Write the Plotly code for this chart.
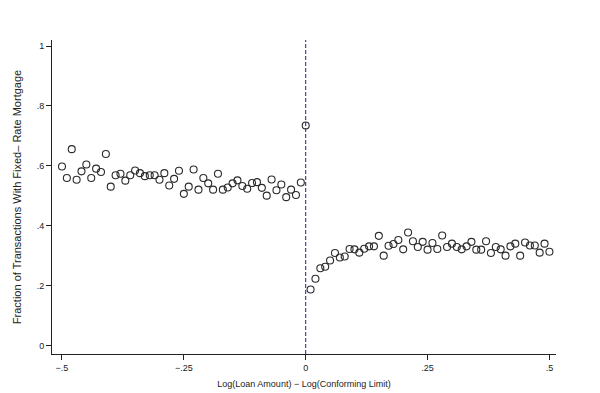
import plotly.graph_objects as go

left_x = [-0.50, -0.49, -0.48, -0.47, -0.46, -0.45, -0.44, -0.43, -0.42, -0.41,
          -0.40, -0.39, -0.38, -0.37, -0.36, -0.35, -0.34, -0.33, -0.32, -0.31,
          -0.30, -0.29, -0.28, -0.27, -0.26, -0.25, -0.24, -0.23, -0.22, -0.21,
          -0.20, -0.19, -0.18, -0.17, -0.16, -0.15, -0.14, -0.13, -0.12, -0.11,
          -0.10, -0.09, -0.08, -0.07, -0.06, -0.05, -0.04, -0.03, -0.02, -0.01]
left_y = [0.598, 0.560, 0.656, 0.554, 0.582, 0.605, 0.560, 0.591, 0.580, 0.640,
          0.531, 0.569, 0.574, 0.551, 0.569, 0.585, 0.576, 0.566, 0.569, 0.569,
          0.554, 0.576, 0.535, 0.557, 0.584, 0.507, 0.531, 0.588, 0.521, 0.560,
          0.542, 0.521, 0.574, 0.521, 0.528, 0.542, 0.552, 0.533, 0.524, 0.543,
          0.546, 0.527, 0.501, 0.555, 0.519, 0.538, 0.496, 0.521, 0.503, 0.545]

center_x = [0.0]
center_y = [0.735]

right_x = [0.01, 0.02, 0.03, 0.04, 0.05, 0.06, 0.07, 0.08, 0.09, 0.10,
           0.11, 0.12, 0.13, 0.14, 0.15, 0.16, 0.17, 0.18, 0.19, 0.20,
           0.21, 0.22, 0.23, 0.24, 0.25, 0.26, 0.27, 0.28, 0.29, 0.30,
           0.31, 0.32, 0.33, 0.34, 0.35, 0.36, 0.37, 0.38, 0.39, 0.40,
           0.41, 0.42, 0.43, 0.44, 0.45, 0.46, 0.47, 0.48, 0.49, 0.50]
right_y = [0.188, 0.224, 0.259, 0.264, 0.285, 0.310, 0.295, 0.298, 0.323, 0.322,
           0.311, 0.324, 0.332, 0.332, 0.367, 0.301, 0.334, 0.340, 0.353, 0.322,
           0.378, 0.349, 0.330, 0.347, 0.321, 0.343, 0.323, 0.368, 0.330, 0.341,
           0.330, 0.322, 0.332, 0.347, 0.321, 0.321, 0.349, 0.310, 0.330, 0.322,
           0.301, 0.332, 0.341, 0.301, 0.345, 0.335, 0.335, 0.311, 0.341, 0.314]

x_tickvals = [-0.5, -0.25, 0, 0.25, 0.5]
x_ticktext = ["\u2212.5", "\u2212.25", "0", ".25", ".5"]
y_tickvals = [0, 0.2, 0.4, 0.6, 0.8, 1]
y_ticktext = ["0", ".2", ".4", ".6", ".8", "1"]

FONT = "Liberation Sans, Arial, sans-serif"

fig = go.Figure()
fig.add_trace(go.Scatter(
    x=left_x + center_x + right_x,
    y=left_y + center_y + right_y,
    mode="markers",
    marker=dict(symbol="circle-open", size=7, color="#2a2a2a", line=dict(width=1.1)),
    showlegend=False,
    hoverinfo="skip",
))

fig.add_shape(type="line", xref="x", yref="paper", x0=0, x1=0, y0=0, y1=1,
              line=dict(color="#1a1aa8", width=1, dash="4px,2px"))

fig.update_layout(
    width=600, height=393,
    margin=dict(l=44, r=52, t=32, b=47, autoexpand=False),
    paper_bgcolor="white", plot_bgcolor="white",
    font=dict(family=FONT, size=9, color="#222"),
    xaxis=dict(
        range=[-0.5205, 0.5135],
        tickvals=x_tickvals, ticktext=x_ticktext,
        showline=True, linecolor="#222", linewidth=1,
        ticks="outside", ticklen=5, tickcolor="#222",
        showgrid=False, zeroline=False, automargin=False,
        title=dict(text="Log(Loan Amount) \u2212 Log(Conforming Limit)",
                   font=dict(size=9), standoff=8),
        tickfont=dict(size=9),
    ),
    yaxis=dict(
        range=[-0.027, 1.02],
        tickvals=y_tickvals, ticktext=y_ticktext,
        showline=True, linecolor="#222", linewidth=1,
        ticks="outside", ticklen=5, tickcolor="#222",
        showgrid=False, zeroline=False, automargin=False,
        title=dict(text="Fraction of Transactions With Fixed\u2013 Rate Mortgage",
                   font=dict(size=11), standoff=12),
        tickfont=dict(size=9),
    ),
)

fig.write_html("out.html")
